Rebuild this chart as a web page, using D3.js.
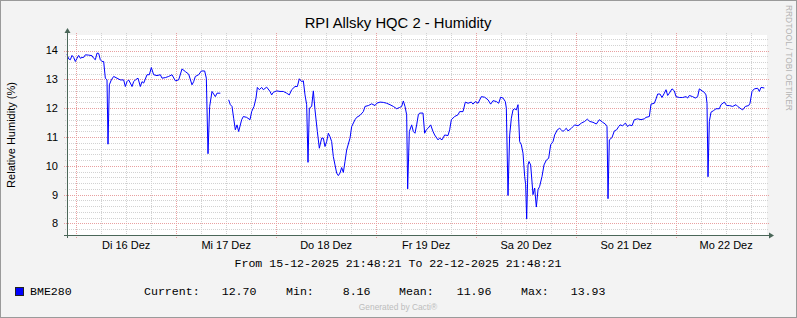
<!DOCTYPE html>
<html><head><meta charset="utf-8">
<script src="https://cdn.jsdelivr.net/npm/d3@7"></script>
<style>body{margin:0;background:#f3f3f3} svg{display:block}</style>
</head><body><svg id="c" width="797" height="318"></svg>
<script>
// ---- data (hours since 15-12-2025 21:48:21, relative humidity %) ----
const hours = [
 0,0.4,0.8,1.2,1.6,2.0,2.4,2.8,3.2,3.6,
 4.0,4.4,5.2,6.0,6.4,6.8,7.2,7.6,8.0,8.4,
 8.8,9.2,9.6,9.84,10.16,10.64,11.2,12.0,12.8,13.6,
 14.0,14.4,14.8,15.2,15.6,16.0,16.4,17.04,17.6,18.0,
 18.4,18.8,19.2,19.76,20.24,20.8,21.6,22.4,22.8,23.6,
 24.4,25.2,26.0,26.8,27.6,28.4,29.2,30.0,30.4,30.8,
 31.6,32.24,33.04,33.44,33.84,34.24,34.8,35.6,36.0,36.8,
 37.8,38.8,39.2,39.6,40.0,40.4,40.8,41.2,41.92,42.32,
 43.12,43.92,44.32,44.88,45.36,45.68,46.16,46.72,47.12,47.92,
 48.72,49.12,49.52,50.32,51.12,51.92,52.72,53.36,53.92,54.72,
 55.28,55.76,56.32,56.72,57.12,57.52,57.84,58.16,58.72,59.12,
 59.52,60.08,60.56,61.12,61.52,61.92,62.32,62.72,63.12,63.52,
 63.92,64.32,64.72,65.12,65.52,65.92,66.32,66.72,67.12,67.92,
 68.32,69.12,69.52,70.32,71.12,71.52,72.32,73.12,73.92,74.32,
 75.12,75.92,76.72,77.52,78.32,79.12,79.76,80.32,80.72,81.12,
 81.52,81.76,82.16,82.72,83.12,83.52,83.92,84.32,84.64,85.44,
 85.84,86.24,86.64,87.28,87.84,88.24,89.04,89.44,90.0,90.64,
 91.44,91.84,92.24,93.04,93.84,94.24,95.04,95.6,96.24,97.04,
 97.44,98.0,98.64,99.44,100.24,101.04,101.68,102.24,103.04,103.6,
 104.08,104.64,105.2,105.44,105.84,106.24,106.64,107.04,107.44,107.84,
 108.24,108.64,109.04,109.44,109.84,110.08,110.32,110.64,110.88,111.28,
 111.84,112.24,112.64,113.04,113.44,114.0,114.48,115.04,115.6,116.08,
 116.64,117.04,117.68,118.24,118.64,119.04,119.44,119.84,120.24,121.04,
 121.44,121.84,122.64,123.44,124.24,124.88,125.44,126.24,127.04,127.76,
 128.56,129.2,129.6,129.84,130.16,130.8,131.36,131.92,132.4,132.72,
 133.36,134.0,134.56,134.96,135.6,136.16,136.96,137.76,138.56,138.96,
 139.76,140.16,140.96,141.36,141.76,142.32,142.8,143.36,143.76,144.16,
 144.56,145.2,145.76,146.16,146.96,147.76,148.56,148.96,149.36,150.16,
 150.8,151.36,151.76,152.4,152.96,153.36,153.6,153.84,154.16,154.56,
 155.12,155.76,156.56,156.96,157.76,158.32,158.96,159.76,160.56,160.96,
 161.52,162.16,162.8,163.6,163.92,164.4,164.96,165.76,166.16,166.56,
 167.36
];
const humidity = [
 13.87,13.71,13.68,13.83,13.76,13.62,13.73,13.83,13.73,13.76,
 13.76,13.85,13.84,13.82,13.73,13.68,13.91,13.90,13.68,13.62,
 13.62,13.04,12.98,10.75,12.81,12.98,13.10,13.04,12.98,12.98,
 12.75,12.92,12.98,12.87,12.75,12.92,12.98,13.04,12.75,12.92,
 12.87,13.01,13.16,13.16,13.41,13.16,13.13,13.16,13.04,13.06,
 13.10,13.16,12.95,12.98,13.36,13.27,13.18,12.81,12.92,13.10,
 13.16,13.29,13.29,13.04,10.42,12.06,12.58,12.40,12.52,12.52,
 null,12.29,12.12,12.06,11.65,11.25,11.42,11.19,11.60,11.71,
 11.68,11.60,11.88,12.06,12.35,12.72,12.64,12.72,12.64,12.73,
 12.58,12.46,12.55,12.60,12.58,12.58,12.52,12.46,12.64,12.75,
 12.75,13.02,12.92,12.95,12.46,12.12,10.12,12.00,12.06,12.60,
 11.94,11.19,10.61,10.96,10.96,10.67,10.84,11.13,11.01,10.84,
 10.32,10.03,9.75,9.66,9.75,9.94,9.77,10.15,10.55,10.96,
 11.36,11.60,11.68,11.75,11.88,12.06,12.09,12.15,12.09,12.17,
 12.21,12.20,12.17,12.12,12.06,11.98,12.02,12.06,12.25,12.06,
 11.77,9.20,11.19,11.42,11.19,11.13,11.42,11.77,11.83,11.83,
 11.13,11.25,11.30,11.42,11.19,11.07,10.90,10.96,10.90,11.07,
 11.05,11.25,11.60,11.71,11.77,11.88,11.88,12.21,12.17,12.21,
 12.14,12.23,12.17,12.40,12.38,12.29,12.14,12.26,12.23,12.17,
 12.38,12.35,12.23,12.00,8.97,11.07,11.65,11.94,11.98,11.94,
 12.12,10.84,10.73,10.44,9.63,9.34,8.16,10.03,10.15,10.03,
 9.00,9.23,8.57,9.17,9.29,9.63,10.03,10.20,10.26,10.73,
 10.84,11.07,11.25,11.30,11.25,11.19,11.25,11.30,11.21,11.30,
 11.36,11.42,11.39,11.48,11.54,11.62,11.54,11.51,11.45,11.60,
 11.51,11.45,11.36,8.86,10.90,10.98,11.21,11.25,11.36,11.42,
 11.39,11.48,11.36,11.42,11.39,11.60,11.63,11.60,11.63,11.68,
 11.71,12.14,12.17,12.32,12.49,12.49,12.37,12.52,12.64,12.44,
 12.52,12.67,12.60,12.40,12.37,12.37,12.40,12.35,12.44,12.40,
 12.35,12.40,12.67,12.60,12.55,12.46,12.17,9.62,11.54,11.86,
 11.91,11.98,11.98,12.12,12.21,12.09,12.09,12.06,12.12,12.06,
 12.00,11.94,12.06,12.09,12.17,12.58,12.67,12.69,12.58,12.72,
 12.70
];
const yTicks = [8, 9, 10, 11, 12, 13, 14];
const xLabels = ["Di 16 Dez","Mi 17 Dez","Do 18 Dez","Fr 19 Dez","Sa 20 Dez","So 21 Dez","Mo 22 Dez"];
const legendStats = [["Current:", "12.70"], ["Min:", "8.16"], ["Mean:", "11.96"], ["Max:", "13.93"]];
const seriesName = "BME280";

// ---- layout ----
const L = 67, R = 767, T = 35, B = 235;
const start = Date.UTC(2025, 11, 15, 21, 48, 21);
const end = start + 7 * 24 * 3600e3;
const x = d3.scaleUtc().domain([start, end]).range([L, R]);
const y = d3.scaleLinear().domain([7.6, 14.538]).range([B, T]);
const svg = d3.select("#c");
const sans = "'Liberation Sans', Arial, sans-serif";
const mono = "'Liberation Mono', 'Courier New', monospace";
const axisCol = "#4a6658";

svg.append("rect").attr("x", 0.5).attr("y", 0.5).attr("width", 796).attr("height", 317)
  .attr("fill", "#f3f3f3").attr("stroke", "#9a9a9a");
svg.append("rect").attr("x", L).attr("y", T).attr("width", R - L).attr("height", B - T).attr("fill", "#fff");

const px = v => Math.round(v) + 0.5;
// minor grid
const minorY = d3.range(39, 73).map(i => i / 5).filter(v => Math.abs(v - Math.round(v)) > 1e-6);
const g = svg.append("g").attr("shape-rendering", "crispEdges");
g.selectAll(".hmin").data(minorY).join("line")
  .attr("x1", L - 2).attr("x2", R + 2).attr("y1", d => px(y(d))).attr("y2", d => px(y(d)))
  .attr("stroke", "#d2d2d2").attr("stroke-dasharray", "1,1");
const hours6 = d3.utcHour.every(6).range(new Date(start), new Date(end)).filter(d => d.getUTCHours() !== 0);
g.selectAll(".vmin").data(hours6).join("line")
  .attr("y1", T - 2).attr("y2", B + 2).attr("x1", d => px(x(d))).attr("x2", d => px(x(d)))
  .attr("stroke", "#d2d2d2").attr("stroke-dasharray", "1,1");
// major grid
g.selectAll(".hmaj").data(yTicks).join("line")
  .attr("x1", L - 3).attr("x2", R + 2).attr("y1", d => px(y(d))).attr("y2", d => px(y(d)))
  .attr("stroke", "#e8a0a0").attr("stroke-dasharray", "1,1");
const days = d3.utcDay.range(new Date(start), new Date(end));
g.selectAll(".vmaj").data(days).join("line")
  .attr("y1", T - 2).attr("y2", B + 3).attr("x1", d => px(x(d))).attr("x2", d => px(x(d)))
  .attr("stroke", "#e8a0a0").attr("stroke-dasharray", "1,1");

// data line
const pts = hours.map((h, i) => ({ t: start + h * 3600e3, v: humidity[i] }));
const line = d3.line().defined(d => d.v != null).x(d => x(d.t)).y(d => y(d.v));
svg.append("path").datum(pts).attr("d", line).attr("fill", "none")
  .attr("stroke", "#0000ff").attr("stroke-width", 1).attr("stroke-linejoin", "miter");

// axes
svg.append("line").attr("x1", L - 3).attr("x2", 770).attr("y1", B + 0.5).attr("y2", B + 0.5)
  .attr("stroke", axisCol).attr("stroke-width", 1);
svg.append("path").attr("d", `M769,${B - 2.5}L774,${B + 0.5}L769,${B + 3.5}Z`).attr("fill", axisCol);
svg.append("line").attr("x1", L + 0.5).attr("x2", L + 0.5).attr("y1", B + 3).attr("y2", 32)
  .attr("stroke", axisCol).attr("stroke-width", 1);
svg.append("path").attr("d", `M${L - 2.5},33L${L + 0.5},28L${L + 3.5},33Z`).attr("fill", axisCol);

// y tick labels
svg.selectAll(".yl").data(yTicks).join("text")
  .attr("x", 58).attr("y", d => y(d)).attr("dy", "0.36em").attr("text-anchor", "end")
  .attr("font-family", sans).attr("font-size", 11).attr("fill", "#000").text(d => d);
// x labels at noon
svg.selectAll(".xl").data(days).join("text")
  .attr("x", d => x(+d + 12 * 3600e3)).attr("y", 249).attr("text-anchor", "middle")
  .attr("font-family", sans).attr("font-size", 11).attr("fill", "#000").text((d, i) => xLabels[i]);

// title
svg.append("text").attr("x", 398).attr("y", 28).attr("text-anchor", "middle")
  .attr("font-family", sans).attr("font-size", 14.8).attr("fill", "#000").text("RPI Allsky HQC 2 - Humidity");
// y label
svg.append("text").attr("transform", "translate(14.5,135) rotate(-90)").attr("text-anchor", "middle")
  .attr("font-family", sans).attr("font-size", 11).attr("fill", "#000").text("Relative Humidity (%)");
// side watermark
svg.append("text").attr("transform", "translate(785.5,5) rotate(90)").attr("text-anchor", "start")
  .attr("font-family", sans).attr("font-size", 8.4).attr("fill", "#b4b4b4").text("RRDTOOL / TOBI OETIKER");

// from / to
svg.append("text").attr("x", 398).attr("y", 266.5).attr("text-anchor", "middle")
  .attr("font-family", mono).attr("font-size", 11.6).attr("fill", "#000").attr("xml:space", "preserve")
  .text("From 15-12-2025 21:48:21 To 22-12-2025 21:48:21");

// legend
svg.append("rect").attr("x", 15.5).attr("y", 287.5).attr("width", 8).attr("height", 8)
  .attr("fill", "#0000ff").attr("stroke", "#222");
const ly = 294.5;
svg.append("text").attr("x", 30).attr("y", ly).attr("font-family", mono).attr("font-size", 11.6).text(seriesName);
const labX = [144, 286, 399, 521], valX = [221.7, 342.7, 456.7, 570.7];
legendStats.forEach(([lab, val], i) => {
  svg.append("text").attr("x", labX[i]).attr("y", ly).attr("font-family", mono).attr("font-size", 11.6).text(lab);
  svg.append("text").attr("x", valX[i]).attr("y", ly).attr("font-family", mono).attr("font-size", 11.6).text(val);
});
svg.append("text").attr("x", 398).attr("y", 310).attr("text-anchor", "middle")
  .attr("font-family", sans).attr("font-size", 8.4).attr("fill", "#bdbdbd").text("Generated by Cacti®");
</script></body></html>
